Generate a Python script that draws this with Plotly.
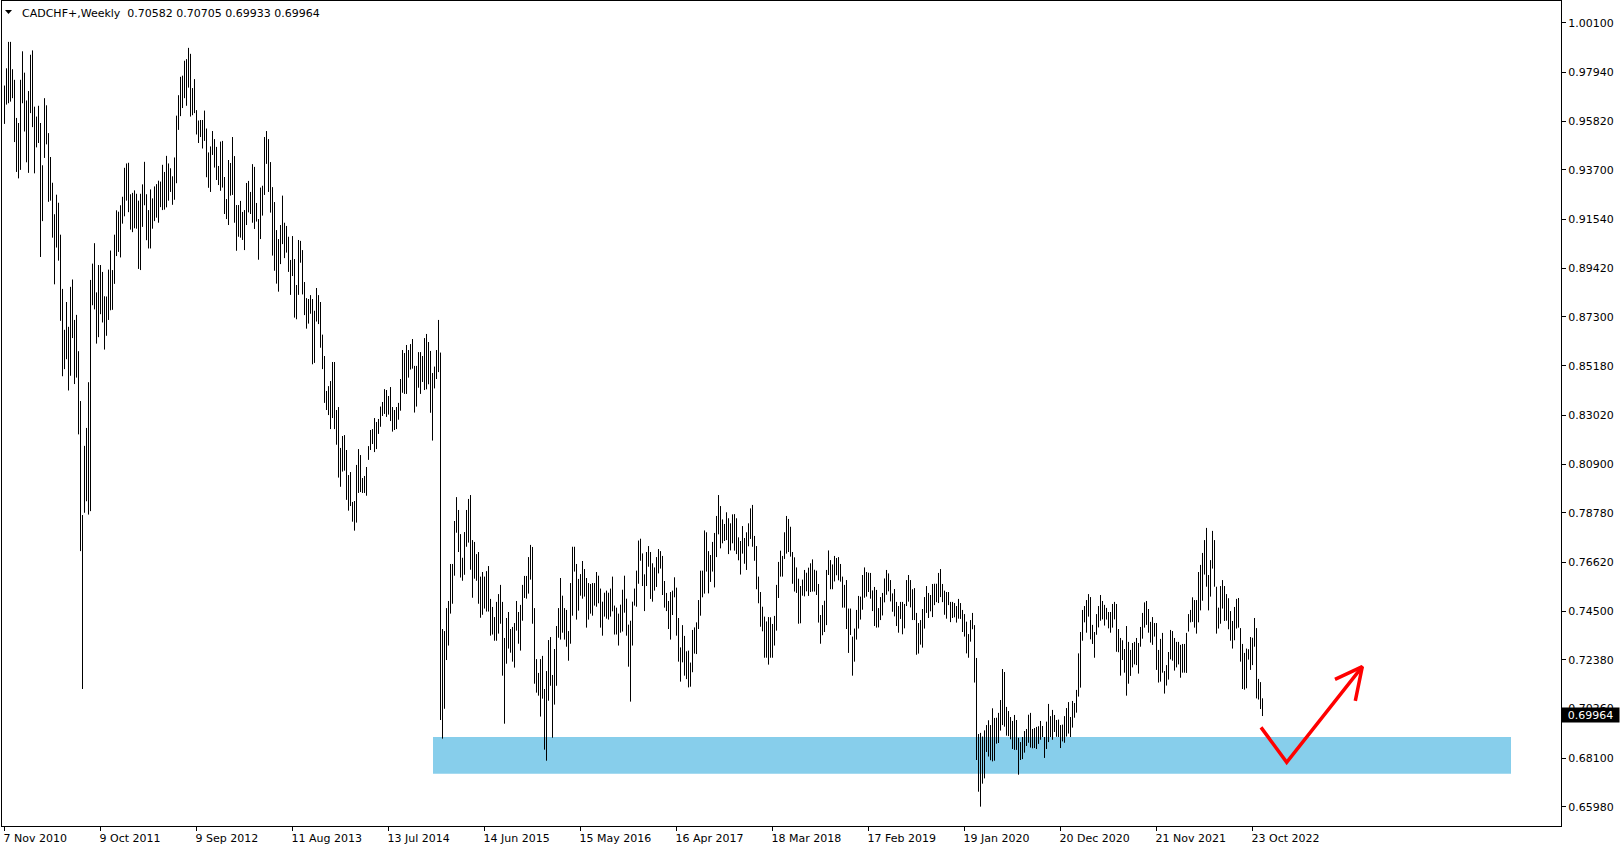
import plotly.graph_objects as go

# ---------------- data (weekly CADCHF bars) ----------------
SYMBOL = "CADCHF+,Weekly"
LAST_OHLC = [0.70582, 0.70705, 0.69933, 0.69964]

BAR_HIGH = [
    0.9737, 0.9812, 0.9927, 0.9927, 0.9808, 0.9762, 0.9596, 0.9574, 0.9762, 0.9886,
    0.9793, 0.9672, 0.9713, 0.9871, 0.9890, 0.9645, 0.9602, 0.9649, 0.9574, 0.9390,
    0.9682, 0.9651, 0.9530, 0.9426, 0.9314, 0.9177, 0.9262, 0.9227, 0.9088, 0.8852,
    0.8674, 0.8795, 0.8687, 0.8861, 0.8893, 0.8717, 0.8739, 0.8581, 0.8364, 0.7868,
    0.8169, 0.8247, 0.8446, 0.8891, 0.8962, 0.9051, 0.8837, 0.8956, 0.8956, 0.8926,
    0.8820, 0.8819, 0.8936, 0.9019, 0.8934, 0.9088, 0.9194, 0.9188, 0.9216, 0.9253,
    0.9379, 0.9398, 0.9401, 0.9264, 0.9270, 0.9281, 0.9266, 0.9236, 0.9266, 0.9307,
    0.9405, 0.9264, 0.9195, 0.9285, 0.9246, 0.9298, 0.9308, 0.9323, 0.9319, 0.9392,
    0.9361, 0.9431, 0.9398, 0.9377, 0.9342, 0.9424, 0.9606, 0.9695, 0.9775, 0.9780,
    0.9845, 0.9852, 0.9901, 0.9875, 0.9726, 0.9765, 0.9630, 0.9585, 0.9587, 0.9587,
    0.9628, 0.9550, 0.9446, 0.9472, 0.9539, 0.9504, 0.9470, 0.9387, 0.9493, 0.9496,
    0.9339, 0.9243, 0.9413, 0.9400, 0.9513, 0.9430, 0.9217, 0.9217, 0.9235, 0.9187,
    0.9195, 0.9313, 0.9322, 0.9274, 0.9395, 0.9383, 0.9226, 0.9156, 0.9293, 0.9301,
    0.9513, 0.9539, 0.9504, 0.9404, 0.9295, 0.9230, 0.9108, 0.9069, 0.9130, 0.9258,
    0.9140, 0.9126, 0.9079, 0.8978, 0.9082, 0.8982, 0.8869, 0.9065, 0.9061, 0.9021,
    0.8882, 0.8812, 0.8808, 0.8825, 0.8808, 0.8757, 0.8856, 0.8825, 0.8795, 0.8653,
    0.8560, 0.8408, 0.8429, 0.8451, 0.8534, 0.8534, 0.8325, 0.8338, 0.8160, 0.8212,
    0.8216, 0.8151, 0.8042, 0.8055, 0.7925, 0.7929, 0.8086, 0.8155, 0.8129, 0.8029,
    0.8038, 0.8077, 0.8168, 0.8238, 0.8242, 0.8290, 0.8273, 0.8286, 0.8340, 0.8360,
    0.8416, 0.8412, 0.8386, 0.8425, 0.8338, 0.8325, 0.8338, 0.8356, 0.8460, 0.8586,
    0.8573, 0.8608, 0.8586, 0.8612, 0.8634, 0.8517, 0.8517, 0.8577, 0.8577, 0.8560,
    0.8638, 0.8656, 0.8621, 0.8582, 0.8486, 0.8514, 0.8586, 0.8717, 0.8575, 0.7372,
    0.7363, 0.7463, 0.7494, 0.7655, 0.7655, 0.7842, 0.7946, 0.7890, 0.7785, 0.7682,
    0.7794, 0.7890, 0.7938, 0.7955, 0.7759, 0.7751, 0.7698, 0.7707, 0.7600, 0.7620,
    0.7600, 0.7624, 0.7646, 0.7503, 0.7468, 0.7424, 0.7490, 0.7524, 0.7564, 0.7490,
    0.7333, 0.7420, 0.7446, 0.7372, 0.7381, 0.7398, 0.7494, 0.7446, 0.7477, 0.7564,
    0.7603, 0.7603, 0.7685, 0.7738, 0.7729, 0.7463, 0.7241, 0.7181, 0.7241, 0.7255,
    0.7111, 0.7189, 0.7324, 0.7337, 0.7172, 0.7285, 0.7385, 0.7463, 0.7594, 0.7517,
    0.7463, 0.7455, 0.7363, 0.7572, 0.7730, 0.7730, 0.7655, 0.7590, 0.7611, 0.7668,
    0.7633, 0.7594, 0.7572, 0.7568, 0.7572, 0.7572, 0.7620, 0.7604, 0.7548, 0.7491,
    0.7530, 0.7539, 0.7530, 0.7548, 0.7600, 0.7474, 0.7465, 0.7439, 0.7478, 0.7543,
    0.7604, 0.7504, 0.7391, 0.7408, 0.7491, 0.7548, 0.7626, 0.7757, 0.7765, 0.7701,
    0.7610, 0.7707, 0.7733, 0.7707, 0.7658, 0.7640, 0.7685, 0.7720, 0.7711, 0.7690,
    0.7581, 0.7529, 0.7494, 0.7533, 0.7539, 0.7597, 0.7552, 0.7420, 0.7292, 0.7389,
    0.7342, 0.7275, 0.7278, 0.7226, 0.7368, 0.7379, 0.7401, 0.7498, 0.7626, 0.7626,
    0.7801, 0.7793, 0.7711, 0.7694, 0.7751, 0.7790, 0.7864, 0.7955, 0.7907, 0.7849,
    0.7829, 0.7880, 0.7854, 0.7832, 0.7871, 0.7872, 0.7854, 0.7771, 0.7755, 0.7820,
    0.7768, 0.7793, 0.7832, 0.7897, 0.7912, 0.7777, 0.7733, 0.7600, 0.7533, 0.7469,
    0.7426, 0.7405, 0.7424, 0.7423, 0.7394, 0.7429, 0.7564, 0.7664, 0.7713, 0.7690,
    0.7793, 0.7864, 0.7851, 0.7817, 0.7707, 0.7684, 0.7640, 0.7591, 0.7559, 0.7587,
    0.7629, 0.7617, 0.7639, 0.7658, 0.7675, 0.7630, 0.7626, 0.7568, 0.7433, 0.7476,
    0.7495, 0.7629, 0.7714, 0.7672, 0.7653, 0.7690, 0.7681, 0.7685, 0.7655, 0.7600,
    0.7564, 0.7585, 0.7461, 0.7461, 0.7339, 0.7374, 0.7455, 0.7516, 0.7513, 0.7607,
    0.7640, 0.7620, 0.7617, 0.7616, 0.7540, 0.7555, 0.7542, 0.7463, 0.7511, 0.7529,
    0.7592, 0.7629, 0.7614, 0.7585, 0.7527, 0.7546, 0.7490, 0.7472, 0.7490, 0.7490,
    0.7481, 0.7585, 0.7607, 0.7585, 0.7545, 0.7550, 0.7442, 0.7398, 0.7411, 0.7459,
    0.7511, 0.7559, 0.7529, 0.7520, 0.7568, 0.7569, 0.7569, 0.7616, 0.7633, 0.7568,
    0.7539, 0.7533, 0.7533, 0.7490, 0.7490, 0.7485, 0.7472, 0.7503, 0.7485, 0.7455,
    0.7437, 0.7404, 0.7350, 0.7411, 0.7442, 0.7389, 0.7246, 0.6915, 0.6920, 0.6904,
    0.6931, 0.6954, 0.6975, 0.6954, 0.7027, 0.6985, 0.6986, 0.7007, 0.7063, 0.7198,
    0.7185, 0.7033, 0.7015, 0.6989, 0.6972, 0.6998, 0.6976, 0.6899, 0.6880, 0.6902,
    0.6928, 0.6937, 0.6999, 0.7007, 0.6937, 0.6941, 0.6946, 0.6949, 0.6972, 0.6950,
    0.6902, 0.6969, 0.7046, 0.6993, 0.7020, 0.6998, 0.6976, 0.6978, 0.6954, 0.6956,
    0.6993, 0.7028, 0.7054, 0.6989, 0.7059, 0.7050, 0.7107, 0.7266, 0.7359, 0.7455,
    0.7472, 0.7498, 0.7524, 0.7511, 0.7390, 0.7359, 0.7437, 0.7472, 0.7520, 0.7494,
    0.7477, 0.7464, 0.7446, 0.7446, 0.7481, 0.7490, 0.7481, 0.7372, 0.7333, 0.7323,
    0.7285, 0.7385, 0.7316, 0.7281, 0.7311, 0.7316, 0.7333, 0.7311, 0.7381, 0.7442,
    0.7488, 0.7494, 0.7459, 0.7403, 0.7424, 0.7398, 0.7398, 0.7281, 0.7329, 0.7355,
    0.7189, 0.7215, 0.7272, 0.7368, 0.7363, 0.7333, 0.7316, 0.7316, 0.7303, 0.7307,
    0.7307, 0.7355, 0.7437, 0.7455, 0.7510, 0.7498, 0.7498, 0.7620, 0.7651, 0.7703,
    0.7759, 0.7812, 0.7607, 0.7672, 0.7799, 0.7759, 0.7556, 0.7465, 0.7559, 0.7585,
    0.7559, 0.7524, 0.7506, 0.7450, 0.7407, 0.7468, 0.7503, 0.7507, 0.7376, 0.7307,
    0.7268, 0.7287, 0.7284, 0.7337, 0.7334, 0.7420, 0.7376, 0.7155, 0.7141, 0.70705,
]

BAR_LOW = [
    0.9570, 0.9654, 0.9660, 0.9667, 0.9682, 0.9491, 0.9361, 0.9333, 0.9370, 0.9660,
    0.9537, 0.9403, 0.9357, 0.9617, 0.9556, 0.9355, 0.9468, 0.9487, 0.8991, 0.9147,
    0.9422, 0.9481, 0.9231, 0.9236, 0.9075, 0.8872, 0.9032, 0.8975, 0.8713, 0.8472,
    0.8503, 0.8546, 0.8410, 0.8474, 0.8638, 0.8438, 0.8466, 0.8219, 0.7711, 0.7111,
    0.7878, 0.7928, 0.7870, 0.7885, 0.8781, 0.8763, 0.8614, 0.8642, 0.8742, 0.8706,
    0.8588, 0.8648, 0.8717, 0.8759, 0.8761, 0.8874, 0.8995, 0.9013, 0.8989, 0.9136,
    0.9168, 0.9236, 0.9186, 0.9110, 0.9099, 0.9116, 0.9114, 0.8939, 0.8934, 0.9122,
    0.9216, 0.9064, 0.9028, 0.9028, 0.9114, 0.9147, 0.9162, 0.9140, 0.9208, 0.9195,
    0.9197, 0.9207, 0.9236, 0.9274, 0.9218, 0.9240, 0.9312, 0.9544, 0.9604, 0.9639,
    0.9682, 0.9649, 0.9728, 0.9602, 0.9608, 0.9617, 0.9524, 0.9487, 0.9513, 0.9463,
    0.9496, 0.9338, 0.9292, 0.9274, 0.9435, 0.9380, 0.9326, 0.9304, 0.9279, 0.9293,
    0.9178, 0.9156, 0.9130, 0.9258, 0.9261, 0.9140, 0.9018, 0.9079, 0.9075, 0.9065,
    0.9021, 0.9130, 0.9185, 0.9178, 0.9140, 0.9113, 0.9145, 0.8979, 0.9069, 0.9171,
    0.9261, 0.9396, 0.9274, 0.9184, 0.8997, 0.8931, 0.8875, 0.8840, 0.8960, 0.9047,
    0.8986, 0.9010, 0.8926, 0.8826, 0.8908, 0.8727, 0.8720, 0.8826, 0.8966, 0.8828,
    0.8738, 0.8679, 0.8701, 0.8744, 0.8524, 0.8530, 0.8710, 0.8699, 0.8596, 0.8503,
    0.8356, 0.8325, 0.8303, 0.8242, 0.8290, 0.8242, 0.8174, 0.8031, 0.7991, 0.8057,
    0.8061, 0.7934, 0.7887, 0.7907, 0.7839, 0.7800, 0.7835, 0.7964, 0.7968, 0.7964,
    0.7964, 0.7952, 0.8108, 0.8151, 0.8177, 0.8142, 0.8155, 0.8221, 0.8252, 0.8299,
    0.8308, 0.8295, 0.8305, 0.8277, 0.8231, 0.8238, 0.8242, 0.8283, 0.8322, 0.8400,
    0.8395, 0.8395, 0.8466, 0.8501, 0.8505, 0.8314, 0.8340, 0.8422, 0.8395, 0.8447,
    0.8412, 0.8415, 0.8437, 0.8313, 0.8192, 0.8419, 0.8460, 0.8490, 0.6976, 0.6895,
    0.7025, 0.7237, 0.7300, 0.7439, 0.7482, 0.7604, 0.7791, 0.7707, 0.7596, 0.7582,
    0.7608, 0.7730, 0.7748, 0.7630, 0.7508, 0.7591, 0.7582, 0.7482, 0.7421, 0.7434,
    0.7461, 0.7448, 0.7448, 0.7343, 0.7348, 0.7321, 0.7321, 0.7352, 0.7395, 0.7169,
    0.6960, 0.7221, 0.7287, 0.7269, 0.7230, 0.7204, 0.7365, 0.7308, 0.7278, 0.7408,
    0.7507, 0.7504, 0.7526, 0.7587, 0.7395, 0.7134, 0.7095, 0.7082, 0.6991, 0.7069,
    0.6847, 0.6799, 0.7060, 0.7125, 0.6899, 0.7043, 0.7125, 0.7334, 0.7326, 0.7356,
    0.7326, 0.7295, 0.7234, 0.7308, 0.7430, 0.7622, 0.7413, 0.7452, 0.7517, 0.7504,
    0.7513, 0.7378, 0.7413, 0.7439, 0.7430, 0.7474, 0.7469, 0.7484, 0.7378, 0.7343,
    0.7426, 0.7417, 0.7413, 0.7426, 0.7449, 0.7348, 0.7348, 0.7300, 0.7356, 0.7361,
    0.7443, 0.7343, 0.7208, 0.7056, 0.7300, 0.7474, 0.7469, 0.7569, 0.7669, 0.7559,
    0.7450, 0.7559, 0.7643, 0.7503, 0.7491, 0.7539, 0.7555, 0.7614, 0.7635, 0.7520,
    0.7465, 0.7450, 0.7372, 0.7326, 0.7433, 0.7510, 0.7343, 0.7230, 0.7143, 0.7227,
    0.7169, 0.7154, 0.7118, 0.7121, 0.7184, 0.7265, 0.7263, 0.7372, 0.7430, 0.7510,
    0.7526, 0.7622, 0.7527, 0.7577, 0.7622, 0.7553, 0.7685, 0.7784, 0.7723, 0.7745,
    0.7755, 0.7759, 0.7698, 0.7714, 0.7745, 0.7713, 0.7698, 0.7671, 0.7609, 0.7700,
    0.7656, 0.7629, 0.7732, 0.7764, 0.7730, 0.7669, 0.7545, 0.7484, 0.7382, 0.7362,
    0.7247, 0.7247, 0.7217, 0.7247, 0.7247, 0.7300, 0.7365, 0.7507, 0.7600, 0.7600,
    0.7677, 0.7700, 0.7707, 0.7687, 0.7569, 0.7535, 0.7529, 0.7395, 0.7397, 0.7517,
    0.7514, 0.7536, 0.7516, 0.7533, 0.7535, 0.7535, 0.7520, 0.7400, 0.7308, 0.7345,
    0.7359, 0.7389, 0.7607, 0.7545, 0.7545, 0.7579, 0.7606, 0.7584, 0.7578, 0.7465,
    0.7465, 0.7372, 0.7268, 0.7346, 0.7169, 0.7230, 0.7326, 0.7374, 0.7413, 0.7456,
    0.7508, 0.7513, 0.7533, 0.7504, 0.7450, 0.7385, 0.7378, 0.7379, 0.7411, 0.7431,
    0.7488, 0.7521, 0.7536, 0.7492, 0.7447, 0.7427, 0.7385, 0.7356, 0.7416, 0.7349,
    0.7375, 0.7472, 0.7491, 0.7466, 0.7411, 0.7411, 0.7260, 0.7265, 0.7304, 0.7291,
    0.7374, 0.7442, 0.7420, 0.7449, 0.7424, 0.7476, 0.7489, 0.7485, 0.7511, 0.7489,
    0.7434, 0.7417, 0.7476, 0.7402, 0.7420, 0.7423, 0.7400, 0.7417, 0.7416, 0.7359,
    0.7339, 0.7266, 0.7247, 0.7317, 0.7371, 0.7139, 0.6802, 0.6664, 0.6599, 0.6699,
    0.6722, 0.6837, 0.6817, 0.6801, 0.6796, 0.6799, 0.6873, 0.6876, 0.6930, 0.6954,
    0.6947, 0.6908, 0.6906, 0.6892, 0.6850, 0.6846, 0.6846, 0.6738, 0.6802, 0.6806,
    0.6834, 0.6863, 0.6877, 0.6856, 0.6853, 0.6854, 0.6850, 0.6872, 0.6890, 0.6902,
    0.6811, 0.6850, 0.6880, 0.6902, 0.6890, 0.6924, 0.6903, 0.6902, 0.6854, 0.6883,
    0.6877, 0.6904, 0.6917, 0.6902, 0.6943, 0.6986, 0.7008, 0.7078, 0.7117, 0.7321,
    0.7401, 0.7356, 0.7426, 0.7327, 0.7307, 0.7247, 0.7347, 0.7379, 0.7408, 0.7414,
    0.7387, 0.7413, 0.7375, 0.7356, 0.7378, 0.7414, 0.7273, 0.7271, 0.7169, 0.7237,
    0.7182, 0.7082, 0.7134, 0.7168, 0.7205, 0.7218, 0.7215, 0.7178, 0.7295, 0.7330,
    0.7378, 0.7390, 0.7356, 0.7313, 0.7303, 0.7339, 0.7194, 0.7139, 0.7143, 0.7182,
    0.7091, 0.7126, 0.7152, 0.7240, 0.7234, 0.7191, 0.7205, 0.7218, 0.7160, 0.7182,
    0.7182, 0.7181, 0.7361, 0.7401, 0.7403, 0.7378, 0.7352, 0.7401, 0.7453, 0.7495,
    0.7609, 0.7556, 0.7453, 0.7513, 0.7635, 0.7556, 0.7352, 0.7374, 0.7395, 0.7461,
    0.7407, 0.7408, 0.7371, 0.7321, 0.7287, 0.7323, 0.7374, 0.7378, 0.7230, 0.7111,
    0.7108, 0.7114, 0.7239, 0.7194, 0.7215, 0.7295, 0.7070, 0.7065, 0.7024, 0.69933,
]

# x axis: weekly bar index, a date label every 48 bars
X_TICK_BARS = [0, 48, 96, 144, 192, 240, 288, 336, 384, 432, 480, 528, 576, 624]
X_TICK_LABELS = ["7 Nov 2010", "9 Oct 2011", "9 Sep 2012", "11 Aug 2013", "13 Jul 2014",
                 "14 Jun 2015", "15 May 2016", "16 Apr 2017", "18 Mar 2018", "17 Feb 2019",
                 "19 Jan 2020", "20 Dec 2020", "21 Nov 2021", "23 Oct 2022"]

Y_TICK_VALUES = [1.00100, 0.97940, 0.95820, 0.93700, 0.91540, 0.89420, 0.87300, 0.85180,
                 0.83020, 0.80900, 0.78780, 0.76620, 0.74500, 0.72380, 0.70260, 0.68100,
                 0.65980]

# support zone (bar index span, price span)
ZONE_BARS = [214.25, 753.25]
ZONE_PRICES = [0.6742, 0.6902]

# hand-drawn projection arrow (bar index, price)
ARROW_BARS = [628.25, 641.1, 678.9]
ARROW_PRICES = [0.6944, 0.6792, 0.7208]
ARROW_HEAD_BARS = [665.25, 678.9, 675.4]
ARROW_HEAD_PRICES = [0.7153, 0.7208, 0.7059]

# ---------------- figure ----------------
FONT = "DejaVu Sans"

xs, ys = [], []
for i, (h, l) in enumerate(zip(BAR_HIGH, BAR_LOW)):
    xs += [i, i, None]
    ys += [l, h, None]

fig = go.Figure()
fig.add_trace(go.Scatter(x=xs, y=ys, mode="lines",
                         line=dict(color="black", width=1),
                         hoverinfo="skip", showlegend=False))
fig.add_trace(go.Scatter(x=ARROW_BARS, y=ARROW_PRICES, mode="lines",
                         line=dict(color="#ff0000", width=3.5),
                         hoverinfo="skip", showlegend=False))
fig.add_trace(go.Scatter(x=ARROW_HEAD_BARS, y=ARROW_HEAD_PRICES, mode="lines",
                         line=dict(color="#ff0000", width=3.5),
                         hoverinfo="skip", showlegend=False))

fig.add_shape(type="rect", xref="x", yref="y",
              x0=ZONE_BARS[0], x1=ZONE_BARS[1], y0=ZONE_PRICES[0], y1=ZONE_PRICES[1],
              fillcolor="#87ceeb", line=dict(width=0), layer="below")

# small down triangle at top-left
fig.add_shape(type="path", xref="paper", yref="paper",
              xsizemode="pixel", ysizemode="pixel", xanchor=0, yanchor=1,
              path="M 3 -9 L 10 -9 L 6.5 -13 Z",
              fillcolor="black", line=dict(width=0))

title_text = (SYMBOL + "\u00a0\u00a0" + " ".join(f"{v:.5f}" for v in LAST_OHLC))
fig.add_annotation(xref="paper", yref="paper", x=0, y=1, xanchor="left", yanchor="middle",
                   xshift=18.5, yshift=-12, text=title_text, showarrow=False,
                   borderpad=0, font=dict(family=FONT, size=11, color="black"))

fig.add_annotation(xref="paper", yref="y", x=1, y=LAST_OHLC[3], xanchor="left",
                   yanchor="middle", text=f"{LAST_OHLC[3]:.5f}", showarrow=False,
                   bgcolor="black", width=57, height=14, borderpad=0,
                   font=dict(family=FONT, size=11, color="white"))

fig.update_layout(
    width=1624, height=850,
    margin=dict(l=2, r=63, t=1, b=24),
    paper_bgcolor="white", plot_bgcolor="white",
    showlegend=False,
    font=dict(family=FONT, size=11, color="black"),
    xaxis=dict(range=[-1.25, 778.25], tickvals=X_TICK_BARS, ticktext=X_TICK_LABELS,
               ticks="outside", ticklen=4, tickcolor="black", tickwidth=1,
               ticklabelposition="outside right", ticklabelshift=-2, ticklabelstandoff=2,
               showgrid=False, zeroline=False, showline=True, mirror=True,
               linecolor="black", linewidth=1,
               tickfont=dict(family=FONT, size=11, color="black"), fixedrange=True),
    yaxis=dict(range=[0.65148, 1.01049], side="right",
               tickvals=Y_TICK_VALUES, ticktext=[f"{v:.5f}" for v in Y_TICK_VALUES],
               ticks="outside", ticklen=4, tickcolor="black", tickwidth=1,
               showgrid=False, zeroline=False, showline=True, mirror=True,
               linecolor="black", linewidth=1,
               tickfont=dict(family=FONT, size=11, color="black"), fixedrange=True),
)

fig.write_html("out.html", config={"displayModeBar": False},
               post_script="document.body.style.margin='0';document.body.style.overflow='hidden';")
